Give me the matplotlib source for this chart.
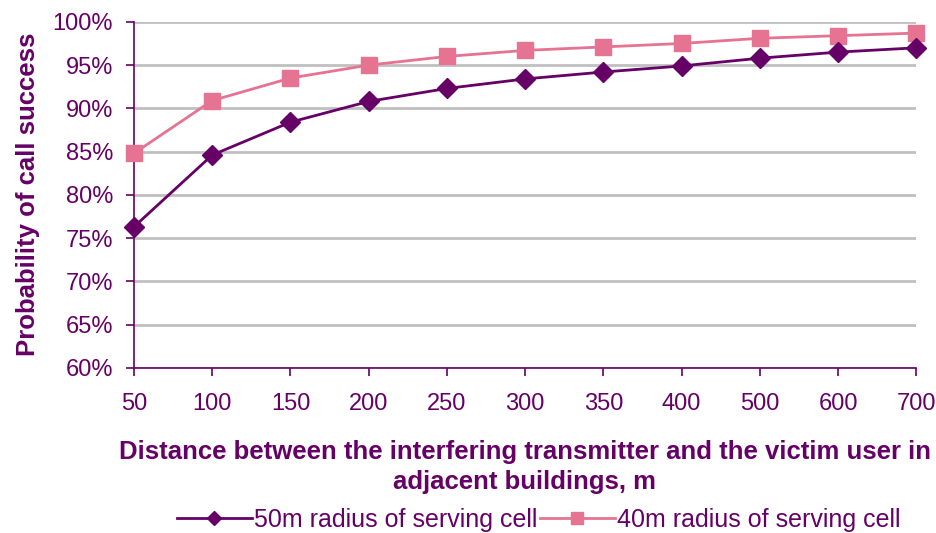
import matplotlib
matplotlib.use("Agg")
import matplotlib.pyplot as plt
from matplotlib.ticker import PercentFormatter

plt.rcParams['font.family'] = ['Liberation Sans', 'DejaVu Sans']

distances = ["50", "100", "150", "200", "250", "300", "350", "400", "500", "600", "700"]
radius_50m = [76.3, 84.6, 88.4, 90.8, 92.3, 93.4, 94.2, 94.9, 95.8, 96.5, 97.0]
radius_40m = [84.8, 90.9, 93.5, 95.0, 96.0, 96.7, 97.1, 97.5, 98.1, 98.4, 98.7]
y_ticks = [60, 65, 70, 75, 80, 85, 90, 95, 100]

purple = "#660066"
pink = "#E57391"

fig = plt.figure(figsize=(9.37, 5.33), dpi=100)
ax = fig.add_axes([0.143, 0.310, 0.835, 0.649])

x = list(range(len(distances)))
ax.plot(x, radius_50m, color=purple, lw=2, marker="D", ms=10, mec=purple,
        label="50m radius of serving cell", zorder=4, clip_on=False)
ax.plot(x, radius_40m, color=pink, lw=2, marker="s", ms=11, mec=pink,
        label="40m radius of serving cell", zorder=3, clip_on=False)

ax.set_xlim(0, len(distances) - 1)
ax.set_ylim(60, 100)
ax.set_yticks(y_ticks)
ax.yaxis.set_major_formatter(PercentFormatter(decimals=0))
ax.set_xticks(x)
ax.set_xticklabels(distances)

ax.grid(axis="y", color="#C0C0C0", lw=2)
ax.set_axisbelow(True)
for s in ("top", "right"):
    ax.spines[s].set_visible(False)
for s in ("left", "bottom"):
    ax.spines[s].set_color(purple)
    ax.spines[s].set_linewidth(1.2)
ax.tick_params(axis="both", colors=purple, labelsize=17, length=6, width=1.2,
               direction="out")
ax.tick_params(axis="x", pad=12)
ax.tick_params(axis="y", pad=9)

ax.set_ylabel("Probability of call success", fontsize=18.5, fontweight="bold",
              color=purple, labelpad=9)
fig.text(0.560, 0.124, "Distance between the interfering transmitter and the victim user in\nadjacent buildings, m",
         ha="center", va="center", fontsize=18.5, fontweight="bold", color=purple,
         linespacing=1.3)

leg = fig.legend(loc="center", bbox_to_anchor=(0.575, 0.024), ncol=2, frameon=False,
                 fontsize=18, handlelength=3.0, handletextpad=0.1, columnspacing=0.1,
                 borderpad=0, markerscale=0.75)
for t in leg.get_texts():
    t.set_color(purple)

fig.savefig("out.png", dpi=100)
